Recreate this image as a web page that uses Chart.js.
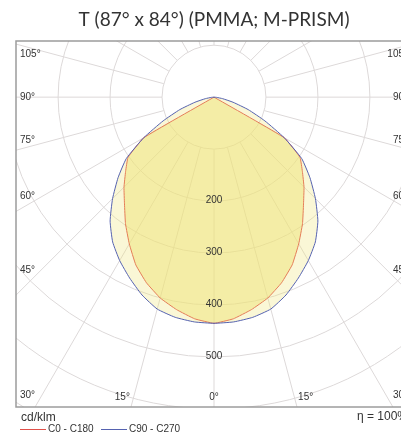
<!DOCTYPE html>
<html>
<head>
<meta charset="utf-8">
<script src="https://cdn.jsdelivr.net/npm/chart.js@4.4.1/dist/chart.umd.min.js"></script>
<style>
  html, body { margin: 0; padding: 0; background: #fff; }
  #wrap { width: 401px; height: 435px; overflow: hidden; position: relative; }
  canvas { display: block; }
</style>
</head>
<body>
<div id="wrap"><canvas id="grafico" width="430" height="435"></canvas></div>
<script>
// angulos gamma (grados desde el nadir) y valores en cd/klm
const angulos = [0, 5, 10, 15, 20, 25, 30, 35, 40, 45, 50, 55, 60, 65, 70, 75, 80, 85, 90];
const c0c180  = [435, 428, 415, 400, 380, 356, 326, 297, 268, 245, 222, 202, 156, 0, 0, 0, 0, 0, 0];
const c90c270 = [435, 434, 430, 422, 405, 384, 363, 340, 311, 276, 241, 206, 156, 108, 70, 38, 17, 5, 0];

const circulos = [100, 200, 300, 400, 500, 600, 700];
const etiquetasRadio = [200, 300, 400, 500];
const etiquetasAngulo = [0, 15, 30, 45, 60, 75, 90, 105];

const titulo = 'T (87° x 84°) (PMMA; M-PRISM)';
const unidad = 'cd/klm';
const rendimiento = 'η = 100%';

// curva cerrada: lado derecho (C0 / C90) y espejo izquierdo (C180 / C270)
function curva(valores) {
    const pts = [{ x: 0, y: 0 }];
    for (let i = angulos.length - 1; i >= 0; i--) {
        const a = angulos[i] * Math.PI / 180;
        pts.push({ x: valores[i] * Math.sin(a), y: -valores[i] * Math.cos(a) });
    }
    for (let i = 1; i < angulos.length; i++) {
        const a = angulos[i] * Math.PI / 180;
        pts.push({ x: -valores[i] * Math.sin(a), y: -valores[i] * Math.cos(a) });
    }
    pts.push({ x: 0, y: 0 });
    return pts;
}

const gridPolar = {
    id: 'gridPolar',
    beforeDatasetsDraw(chart) {
        const { ctx, chartArea: ca, scales: { x, y } } = chart;
        const cx = x.getPixelForValue(0), cy = y.getPixelForValue(0);
        const k = x.getPixelForValue(100) - cx; // px por 100 cd
        ctx.save();
        ctx.beginPath();
        ctx.rect(ca.left, ca.top, ca.right - ca.left, ca.bottom - ca.top);
        ctx.clip();
        ctx.strokeStyle = '#ddd9d9';
        ctx.lineWidth = 1;
        circulos.forEach(c => {
            ctx.beginPath();
            ctx.arc(cx, cy, c / 100 * k, 0, Math.PI * 2);
            ctx.stroke();
        });
        for (let g = 0; g < 360; g += 15) {
            const a = g * Math.PI / 180;
            const r0 = k, r1 = 9 * k;
            ctx.beginPath();
            ctx.moveTo(cx + r0 * Math.sin(a), cy + r0 * Math.cos(a));
            ctx.lineTo(cx + r1 * Math.sin(a), cy + r1 * Math.cos(a));
            ctx.stroke();
        }
        ctx.restore();
    },
    afterDatasetsDraw(chart) {
        const { ctx, chartArea: ca, scales: { x, y } } = chart;
        const cx = x.getPixelForValue(0), cy = y.getPixelForValue(0);
        ctx.save();
        ctx.fillStyle = '#333';
        ctx.font = '10px "Liberation Sans", Arial, sans-serif';
        ctx.textBaseline = 'middle';
        ctx.textAlign = 'center';
        etiquetasRadio.forEach(v => {
            ctx.fillText(String(v), cx, y.getPixelForValue(-v) - 1);
        });
        // etiquetas de angulo junto al marco
        const colX = ca.left + 12, filaY = ca.bottom - 10;
        etiquetasAngulo.forEach(g => {
            let gs = g === 0 ? 0 : (g < 90 ? g + 2 : (g > 90 ? g - 2 : 90));
            const a = gs * Math.PI / 180;
            [-1, 1].forEach(lado => {
                if (g === 0 && lado === 1) return;
                const txt = g + '°';
                const t1 = (cx - colX) / Math.sin(a);
                const py = cy + t1 * Math.cos(a);
                if (g !== 0 && py <= filaY) {
                    if (lado === -1) { ctx.textAlign = 'left'; ctx.fillText(txt, ca.left + 4, py); }
                    else { ctx.textAlign = 'right'; ctx.fillText(txt, ca.right - 4, py); }
                } else {
                    const t2 = (filaY - cy) / Math.cos(a);
                    ctx.textAlign = 'center';
                    ctx.fillText(txt, cx + lado * t2 * Math.sin(a), filaY);
                }
            });
        });
        ctx.restore();
    },
    afterDraw(chart) {
        const { ctx, chartArea: ca } = chart;
        ctx.save();
        ctx.strokeStyle = '#9c9c9c';
        ctx.lineWidth = 1.5;
        ctx.strokeRect(ca.left, ca.top, ca.right - ca.left, ca.bottom - ca.top);
        // titulo
        ctx.fillStyle = '#333';
        ctx.font = '19px Lato, "Open Sans", sans-serif';
        ctx.textAlign = 'center';
        ctx.textBaseline = 'middle';
        ctx.fillText(titulo, 214, 20);
        // unidad y rendimiento
        ctx.font = '12px "Liberation Sans", Arial, sans-serif';
        ctx.textAlign = 'left';
        ctx.fillText(unidad, ca.left + 5, 418);
        ctx.textAlign = 'right';
        ctx.fillText(rendimiento, ca.right - 4, 417);
        // leyenda
        ctx.font = '10px "Liberation Sans", Arial, sans-serif';
        ctx.textAlign = 'left';
        let lx = ca.left + 4;
        chart.data.datasets.slice().reverse().forEach(ds => {
            ctx.strokeStyle = ds.borderColor;
            ctx.lineWidth = 1;
            ctx.beginPath();
            ctx.moveTo(lx, 429.5);
            ctx.lineTo(lx + 26, 429.5);
            ctx.stroke();
            ctx.fillStyle = '#333';
            ctx.fillText(ds.label, lx + 28, 429);
            lx += 81;
        });
        ctx.restore();
    }
};

new Chart(document.getElementById('grafico'), {
    type: 'scatter',
    data: {
        datasets: [
            {
                label: 'C90 - C270',
                data: curva(c90c270),
                showLine: true,
                borderColor: '#5562b0',
                backgroundColor: 'rgba(240, 228, 120, 0.3)',
                borderWidth: 1,
                pointRadius: 0,
                tension: 0.15,
                fill: 'shape'
            },
            {
                label: 'C0 - C180',
                data: curva(c0c180),
                showLine: true,
                borderColor: '#e0504a',
                backgroundColor: 'rgba(240, 228, 120, 0.5)',
                borderWidth: 1,
                pointRadius: 0,
                tension: 0.1,
                fill: 'shape'
            }
        ]
    },
    options: {
        responsive: false,
        animation: false,
        devicePixelRatio: 1,
        layout: { padding: { left: 16, top: 41, right: 18, bottom: 28 } },
        plugins: { legend: { display: false }, title: { display: false }, tooltip: { enabled: false } },
        scales: {
            x: { type: 'linear', display: false, min: -381, max: 381 },
            y: { type: 'linear', display: false, min: -596, max: 108 }
        }
    },
    plugins: [gridPolar]
});
</script>
</body>
</html>
